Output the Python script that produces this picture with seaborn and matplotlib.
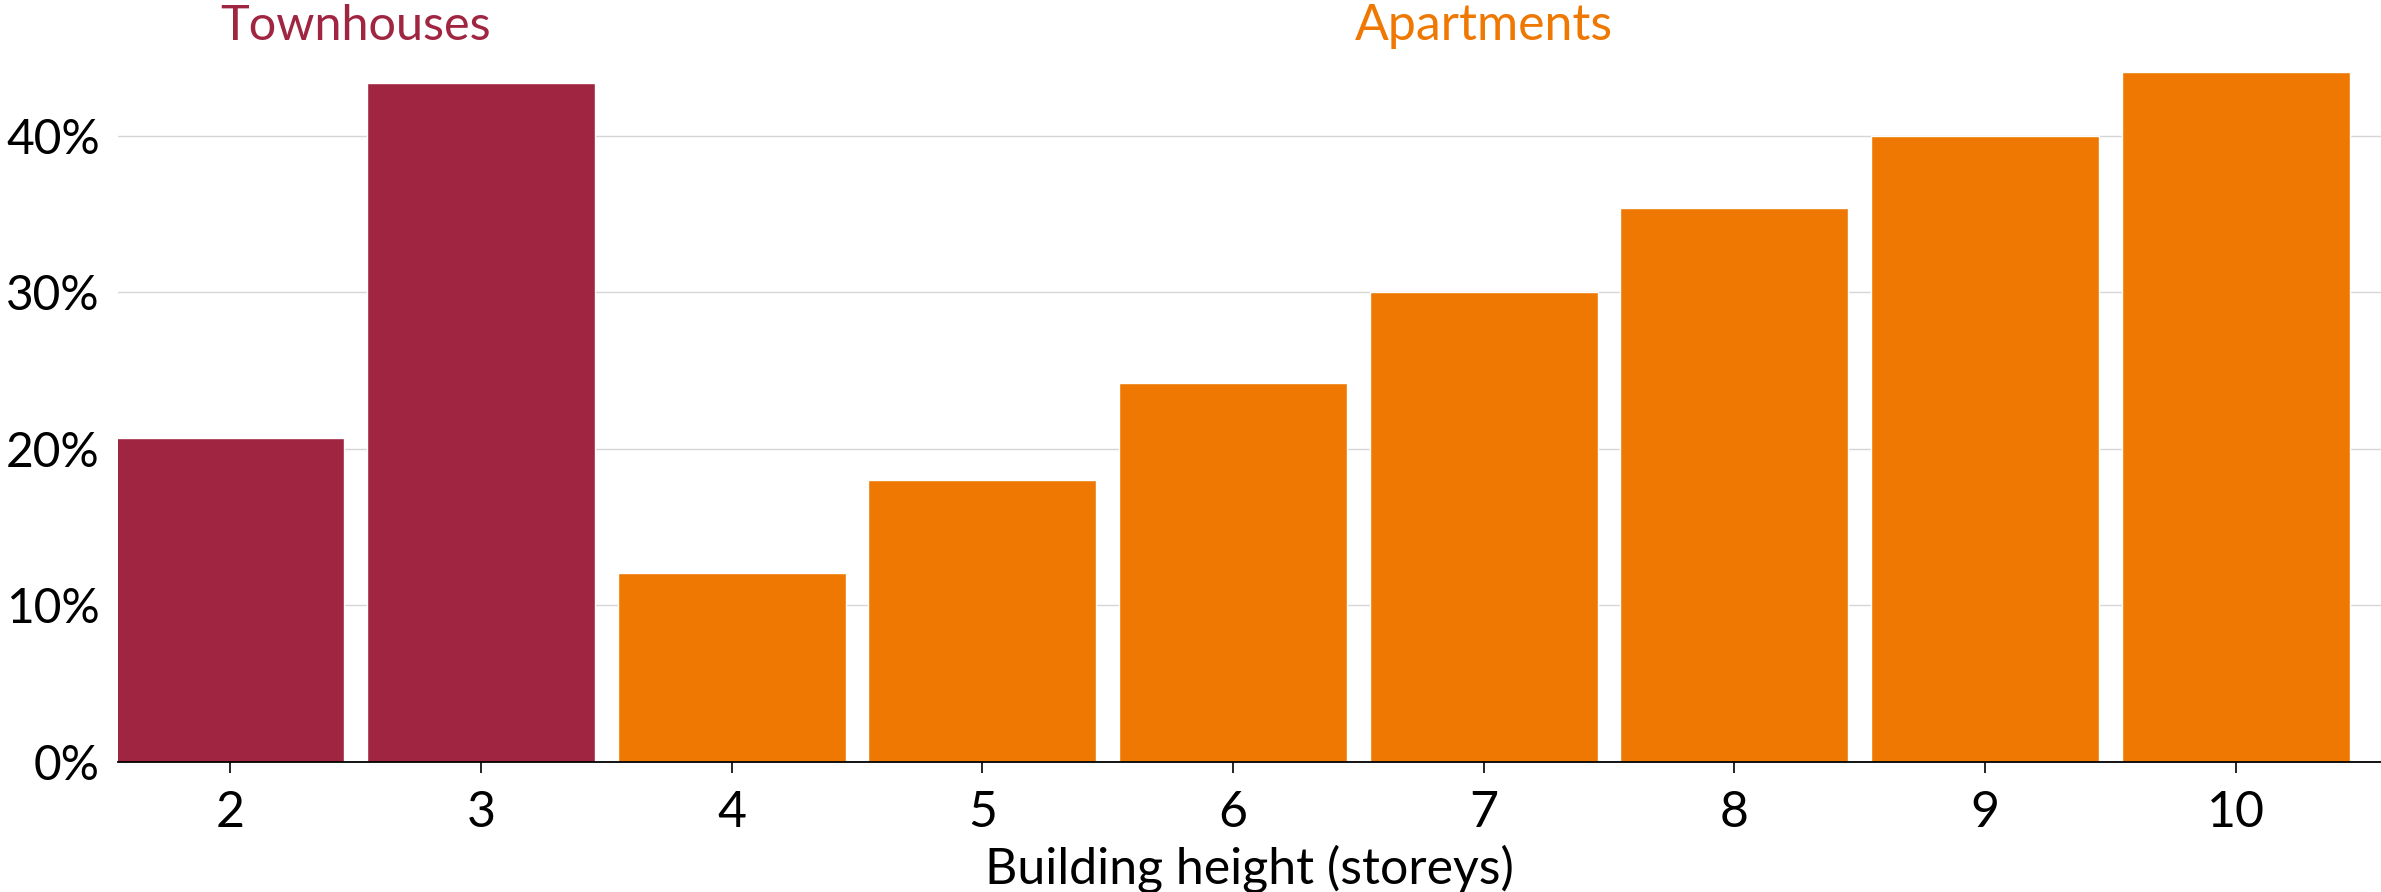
import matplotlib
matplotlib.use("Agg")
import matplotlib.pyplot as plt
import matplotlib.ticker as mticker
import pandas as pd
import seaborn as sns

# Share of dwellings by building height (storeys)
storeys = ["2", "3", "4", "5", "6", "7", "8", "9", "10"]
share_pct = [20.7, 43.4, 12.1, 18.0, 24.2, 30.0, 35.4, 40.0, 44.1]
building_type = ["Townhouses", "Townhouses", "Apartments", "Apartments", "Apartments",
                 "Apartments", "Apartments", "Apartments", "Apartments"]
type_colors = {"Townhouses": "#A02540", "Apartments": "#EE7802"}

df = pd.DataFrame({"storeys": storeys, "share": share_pct, "type": building_type})

sns.set_theme(style="white")
plt.rcParams["font.family"] = ["Lato", "DejaVu Sans"]

fig = plt.figure(figsize=(23.81, 8.92), dpi=100)
ax = fig.add_axes([118 / 2381, 130 / 892, 1 - 118 / 2381, (762 - 42) / 892])

sns.barplot(data=df, x="storeys", y="share", hue="type", palette=type_colors,
            order=storeys, dodge=False, width=0.91, saturation=1, legend=False, ax=ax)

ax.set_xlim(-0.448, 8.58)
ax.set_ylim(0, 46)
ax.set_yticks([0, 10, 20, 30, 40])
ax.yaxis.set_major_formatter(mticker.FuncFormatter(lambda v, _: f"{v:.0f}%"))
ax.yaxis.grid(True, color="#d6d6d6", linewidth=1.0)
ax.set_axisbelow(True)

for side in ("top", "right", "left"):
    ax.spines[side].set_visible(False)
ax.spines["bottom"].set_color("black")
ax.spines["bottom"].set_linewidth(1.3)

ax.tick_params(axis="x", bottom=True, length=8, width=1.2, color="black",
               labelsize=36, pad=12, labelcolor="black")
ax.tick_params(axis="y", left=False, labelsize=34.5, pad=7, labelcolor="black")

ax.set_ylabel("")
ax.set_xlabel("Building height (storeys)", fontsize=36, color="black", labelpad=6)

# Group labels above the bars
ax.text(0.5, 47.0, "Townhouses", color=type_colors["Townhouses"], fontsize=35,
        ha="center", va="center", clip_on=False)
ax.text(5.0, 47.0, "Apartments", color=type_colors["Apartments"], fontsize=36,
        ha="center", va="center", clip_on=False)

fig.savefig("out.png", dpi=100)
